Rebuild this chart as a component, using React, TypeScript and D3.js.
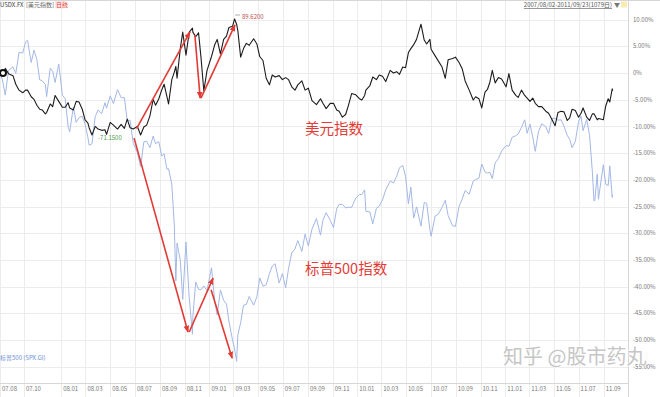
import React from 'react';
import * as d3 from 'd3';

// 美元指数 (USDX.FX) and 标普500 (SPX.GI) closes, plotted as % change from the first day
const dates = [
  '2007-08-02','2007-08-09','2007-08-16','2007-08-24','2007-09-04','2007-09-11','2007-09-19','2007-09-28',
  '2007-10-05','2007-10-10','2007-10-19','2007-10-26','2007-11-02','2007-11-09','2007-11-15','2007-11-23',
  '2007-11-26','2007-12-05','2007-12-11','2007-12-17','2007-12-26','2008-01-04','2008-01-11','2008-01-18',
  '2008-01-22','2008-01-31','2008-02-07','2008-02-14','2008-02-22','2008-02-29','2008-03-07','2008-03-10',
  '2008-03-17','2008-03-25','2008-04-01','2008-04-10','2008-04-18','2008-04-22','2008-05-01','2008-05-09',
  '2008-05-19','2008-05-28','2008-06-05','2008-06-12','2008-06-19','2008-06-27','2008-07-07','2008-07-15',
  '2008-07-23','2008-07-30','2008-08-07','2008-08-15','2008-08-21','2008-08-29','2008-09-05','2008-09-11',
  '2008-09-18','2008-09-22','2008-09-30','2008-10-06','2008-10-10','2008-10-13','2008-10-21','2008-10-27',
  '2008-11-04','2008-11-12','2008-11-20','2008-11-21','2008-11-28','2008-12-05','2008-12-11','2008-12-18',
  '2008-12-26','2009-01-06','2009-01-14','2009-01-20','2009-01-28','2009-02-05','2009-02-12','2009-02-18',
  '2009-02-27','2009-03-04','2009-03-09','2009-03-12','2009-03-19','2009-03-26','2009-04-02','2009-04-09',
  '2009-04-20','2009-04-28','2009-05-05','2009-05-13','2009-05-21','2009-05-29','2009-06-05','2009-06-12',
  '2009-06-22','2009-06-30','2009-07-08','2009-07-15','2009-07-23','2009-07-31','2009-08-07','2009-08-17',
  '2009-08-25','2009-09-02','2009-09-11','2009-09-22','2009-10-02','2009-10-08','2009-10-16','2009-10-26',
  '2009-11-03','2009-11-11','2009-11-17','2009-11-25','2009-12-03','2009-12-10','2009-12-18','2009-12-28',
  '2010-01-06','2010-01-12','2010-01-19','2010-01-22','2010-02-01','2010-02-08','2010-02-17','2010-02-24',
  '2010-03-04','2010-03-12','2010-03-23','2010-03-31','2010-04-08','2010-04-15','2010-04-23','2010-04-30',
  '2010-05-07','2010-05-13','2010-05-20','2010-05-27','2010-06-07','2010-06-15','2010-06-21','2010-06-29',
  '2010-07-02','2010-07-12','2010-07-20','2010-07-29','2010-08-06','2010-08-13','2010-08-24','2010-08-31',
  '2010-09-09','2010-09-17','2010-09-24','2010-10-04','2010-10-14','2010-10-20','2010-10-28','2010-11-04',
  '2010-11-12','2010-11-18','2010-11-24','2010-11-30','2010-12-07','2010-12-15','2010-12-23','2011-01-03',
  '2011-01-10','2011-01-18','2011-01-27','2011-02-02','2011-02-10','2011-02-18','2011-02-24','2011-03-03',
  '2011-03-10','2011-03-16','2011-03-24','2011-04-01','2011-04-11','2011-04-18','2011-04-26','2011-05-04',
  '2011-05-11','2011-05-19','2011-05-26','2011-06-03','2011-06-09','2011-06-15','2011-06-23','2011-07-01',
  '2011-07-07','2011-07-12','2011-07-21','2011-07-28','2011-08-04','2011-08-08','2011-08-10','2011-08-16',
  '2011-08-19','2011-08-31','2011-09-06','2011-09-12','2011-09-16','2011-09-22','2011-09-23',
];

const usdx = [
  81.0, 80.6, 81.7, 80.9, 80.6, 79.3, 78.4, 78.0,
  78.4, 78.4, 77.4, 77.0, 76.1, 75.5, 75.4, 74.8,
  75.0, 76.3, 75.9, 77.6, 76.7, 75.8, 75.8, 76.5,
  75.7, 75.4, 76.7, 76.6, 75.5, 73.9, 73.4, 72.7,
  71.6, 72.9, 72.5, 72.3, 72.4, 71.7, 73.5, 73.1,
  72.5, 73.2, 72.6, 74.0, 72.7, 72.5, 72.9, 71.6,
  72.8, 73.1, 74.5, 77.0, 76.1, 77.1, 78.4, 79.3,
  77.4, 76.3, 80.0, 81.1, 82.0, 80.2, 84.7, 87.2,
  83.7, 87.2, 87.8, 87.2, 86.5, 87.1, 83.4, 78.3,
  81.4, 83.5, 85.3, 86.1, 83.9, 86.1, 86.6, 87.9,
  88.1, 89.2, 88.4, 87.4, 83.4, 84.7, 85.5, 85.2,
  86.2, 85.4, 83.5, 82.9, 80.2, 79.2, 80.7, 80.4,
  80.6, 80.0, 80.3, 80.0, 78.9, 78.4, 79.2, 79.8,
  78.4, 78.7, 76.8, 76.2, 77.1, 76.4, 75.6, 76.4,
  76.4, 75.4, 75.2, 74.3, 74.7, 76.1, 77.9, 77.7,
  77.1, 76.9, 77.6, 78.4, 79.1, 80.4, 80.0, 80.7,
  80.5, 79.7, 81.4, 81.0, 81.2, 80.8, 81.9, 81.8,
  84.1, 84.7, 85.3, 86.1, 88.4, 86.0, 85.4, 86.1,
  84.6, 83.6, 82.8, 81.9, 80.2, 83.0, 83.2, 83.4,
  82.6, 81.6, 79.8, 78.4, 76.9, 77.4, 77.1, 75.7,
  78.1, 78.5, 79.6, 81.4, 79.5, 80.3, 80.1, 78.9,
  80.9, 78.4, 77.6, 77.3, 78.4, 77.6, 77.2, 76.7,
  77.2, 76.4, 75.9, 75.9, 75.2, 74.9, 74.0, 73.0,
  75.0, 75.2, 75.1, 73.8, 74.2, 75.5, 75.3, 74.3,
  74.9, 75.7, 74.3, 73.8, 74.8, 74.8, 74.6, 73.9,
  74.1, 73.9, 76.0, 77.1, 76.6, 78.6, 78.3,
];

const spx = [
  1472, 1453, 1411, 1479, 1489, 1471, 1529, 1527,
  1557, 1562, 1501, 1535, 1509, 1453, 1451, 1440,
  1407, 1485, 1477, 1446, 1497, 1411, 1401, 1325,
  1310, 1378, 1336, 1349, 1353, 1331, 1294, 1273,
  1277, 1352, 1370, 1360, 1390, 1375, 1409, 1388,
  1426, 1404, 1404, 1341, 1342, 1278, 1253, 1214,
  1282, 1284, 1266, 1298, 1277, 1283, 1243, 1249,
  1207, 1208, 1166, 1057, 899, 1003, 955, 848,
  1006, 853, 752, 800, 896, 876, 874, 885,
  872, 935, 843, 805, 874, 845, 835, 788,
  735, 712, 677, 750, 784, 832, 834, 856,
  832, 855, 907, 884, 888, 919, 940, 946,
  893, 919, 880, 932, 976, 987, 1010, 980,
  1028, 995, 1042, 1071, 1025, 1066, 1087, 1066,
  1046, 1098, 1110, 1110, 1100, 1102, 1102, 1127,
  1137, 1137, 1150, 1091, 1089, 1056, 1099, 1105,
  1122, 1150, 1174, 1169, 1187, 1211, 1217, 1187,
  1111, 1157, 1072, 1103, 1050, 1115, 1113, 1041,
  1022, 1078, 1083, 1102, 1121, 1079, 1051, 1049,
  1104, 1125, 1148, 1138, 1174, 1178, 1182, 1221,
  1199, 1196, 1198, 1181, 1224, 1236, 1257, 1272,
  1270, 1295, 1299, 1304, 1322, 1343, 1306, 1331,
  1295, 1256, 1310, 1332, 1324, 1305, 1347, 1347,
  1342, 1343, 1325, 1300, 1289, 1266, 1284, 1339,
  1353, 1313, 1344, 1300, 1200, 1119, 1121, 1193,
  1124, 1219, 1165, 1162, 1216, 1129, 1136,
];

const yTicks = [10, 5, 0, -5, -10, -15, -20, -25, -30, -35, -40, -45, -50, -55];
const xTicks = [
  '2007-08-01','2007-10-01','2008-01-01','2008-03-01','2008-05-01','2008-07-01','2008-09-01',
  '2008-11-01','2009-01-01','2009-03-01','2009-05-01','2009-07-01','2009-09-01','2009-11-01',
  '2010-01-01','2010-03-01','2010-05-01','2010-07-01','2010-09-01','2010-11-01','2011-01-01',
  '2011-03-01','2011-05-01','2011-07-01','2011-09-01',
];

// red hand-drawn arrows: [fromDate, fromPct, toDate, toPct]
const arrows: [string, number, string, number][] = [
  ['2008-07-05', -10.4, '2008-11-14', 7.7],
  ['2008-11-26', 7.1, '2008-12-09', -4.7],
  ['2008-12-11', -4.7, '2009-03-05', 9.0],
  ['2008-06-29', -12.2, '2008-11-09', -48.5],
  ['2008-11-12', -48.5, '2009-01-10', -38.4],
  ['2009-01-05', -40.6, '2009-02-26', -53.4],
];

const W = 660, H = 397;
const plotR = 628, axisY = 383;
const parse = d3.timeParse('%Y-%m-%d');
const fmtTick = d3.timeFormat('%y.%m');
const cjk = '"Noto Sans CJK SC", "Noto Sans", sans-serif';

export default function App() {
  const x = d3.scaleTime()
    .domain([new Date(2007, 7, 3), new Date(2011, 9, 26)])
    .range([0, 626]);
  const y = d3.scaleLinear().domain([-55, 10]).range([366.7, 19.6]);

  const pct = (arr: number[]) => arr.map((v, i) => ({ d: parse(dates[i])!, v: (v / arr[0] - 1) * 100 }));
  const line = d3.line<{ d: Date; v: number }>().x(p => x(p.d)).y(p => y(p.v));
  const usdxPath = line(pct(usdx)) || '';
  const spxPath = line(pct(spx)) || '';

  const red = '#e23b36';

  return (
    <svg width={W} height={H} style={{ position: 'absolute', left: 0, top: 0, background: '#fff' }}
      fontFamily={cjk}>
      <defs>
        <marker id="ah" viewBox="0 0 10 10" refX="9" refY="5" markerWidth="7" markerHeight="7"
          markerUnits="userSpaceOnUse" orient="auto">
          <path d="M0,1 L10,5 L0,9 z" fill={red} />
        </marker>
      </defs>
      <rect width={W} height={H} fill="#fff" />

      {/* grid */}
      {yTicks.map(t => (
        <line key={'h' + t} x1={0} x2={plotR} y1={Math.round(y(t)) + 0.5} y2={Math.round(y(t)) + 0.5}
          stroke="#ececec" />
      ))}
      {xTicks.map(t => {
        const xx = Math.max(0, Math.round(x(parse(t)!))) + 0.5;
        return <line key={'v' + t} x1={xx} x2={xx} y1={0} y2={H} stroke="#ececec" />;
      })}
      <line x1={0} x2={W} y1={0.5} y2={0.5} stroke="#d6d6d6" />
      <line x1={0} x2={plotR} y1={axisY + 0.5} y2={axisY + 0.5} stroke="#d6d6d6" />
      <line x1={plotR + 0.5} x2={plotR + 0.5} y1={0} y2={H} stroke="#d6d6d6" />

      {/* axes labels */}
      {yTicks.map(t => (
        <text key={'yl' + t} x={633} y={y(t)} dy="0.35em" fontSize={6} fill="#777">
          {t === 0 ? '0%' : t.toFixed(2) + '%'}
        </text>
      ))}
      {xTicks.map(t => (
        <text key={'xl' + t} x={Math.max(0, x(parse(t)!)) + 2} y={391} fontSize={6} fill="#777">
          {fmtTick(parse(t)!)}
        </text>
      ))}

      {/* series */}
      <path d={spxPath} fill="none" stroke="#a3b8e6" strokeWidth={1} strokeLinejoin="round" />
      <path d={usdxPath} fill="none" stroke="#1c1c1c" strokeWidth={1.1} strokeLinejoin="round" />
      <circle cx={3} cy={y(0)} r={3} fill="#fff" stroke="#111" strokeWidth={2} />

      {/* high / low labels */}
      <line x1={235} x2={240} y1={15} y2={15} stroke="#999" strokeWidth={0.8} />
      <text x={242} y={19} fontSize={6} fill="#c0504d">89.6200</text>
      <text x={98} y={139.5} fontSize={6} fill="#4c9a4c">-71.1500</text>

      {/* arrows */}
      {arrows.map((a, i) => (
        <line key={'a' + i} x1={x(parse(a[0])!)} y1={y(a[1])} x2={x(parse(a[2])!)} y2={y(a[3])}
          stroke={red} strokeWidth={1.6} markerEnd="url(#ah)" />
      ))}

      <text x={305} y={134} fontSize={14.5} fill={red}>美元指数</text>
      <text x={305} y={274} fontSize={14.5} fill={red}>标普500指数</text>

      {/* header */}
      <text x={0} y={7} fontSize={6} fill="#444">USDX.FX</text>
      <text x={26} y={7} fontSize={6} fill="#666">[美元指数]</text>
      <rect x={55} y={1} width={10} height={7.5} fill="#fde3e3" />
      <text x={56} y={7} fontSize={6} fill="#e03a3a">日线</text>
      <text x={612} y={7} fontSize={6} fill="#555" textAnchor="end" textDecoration="underline">
        2007/08/02-2011/09/23(1079日)
      </text>
      <text x={614} y={7} fontSize={6} fill="#777">▼</text>
      <rect x={621} y={1.5} width={6} height={6} fill="#faecb0" />

      <text x={0} y={360} fontSize={6} fill="#6d8fd8">标普500 (SPX.GI)</text>

      {/* watermark */}
      <text x={503} y={364} fontSize={20} fill="#c6c6c6" stroke="#fff" strokeWidth={1.2}
        style={{ paintOrder: 'stroke' }}>知乎 @股市药丸</text>
    </svg>
  );
}
